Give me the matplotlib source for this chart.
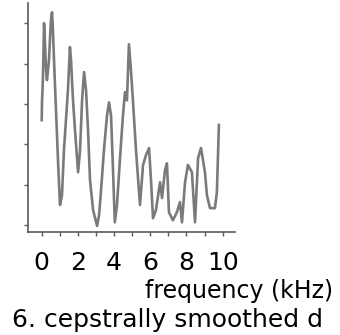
import matplotlib
matplotlib.use("Agg")
import matplotlib.pyplot as plt

# spectrum values (frequency in kHz, level in dB)
freq_khz = [0.0, 0.02, 0.07, 0.13, 0.18, 0.24, 0.29, 0.40, 0.51, 0.57,
            0.62, 0.68, 0.79, 0.90, 1.01, 1.12, 1.23, 1.34, 1.45, 1.56,
            1.62, 1.73, 1.84, 2.01, 2.12, 2.23, 2.34, 2.45, 2.56, 2.67,
            2.84, 3.06, 3.17, 3.28, 3.44, 3.61, 3.72, 3.83, 3.94, 4.04,
            4.16, 4.32, 4.49, 4.60, 4.71, 4.82, 4.93, 5.04, 5.21, 5.43,
            5.60, 5.76, 5.93, 6.04, 6.15, 6.31, 6.54, 6.65, 6.81, 6.92,
            7.03, 7.25, 7.47, 7.64, 7.75, 7.92, 8.08, 8.30, 8.47, 8.64,
            8.80, 9.02, 9.13, 9.30, 9.57, 9.68, 9.79]
level_db = [26.0, 30.9, 36.6, 50.0, 45.0, 38.4, 35.9, 40.8, 50.7, 52.7,
            48.3, 40.8, 28.5, 16.1, 5.0, 7.4, 18.6, 26.0, 33.4, 44.1,
            40.8, 30.9, 23.5, 13.1, 18.6, 30.9, 37.9, 33.4, 23.5, 11.1,
            3.7, -0.2, 2.5, 8.7, 18.6, 27.2, 30.4, 27.2, 13.6, 0.7,
            5.0, 16.1, 27.2, 32.9, 30.9, 44.8, 38.4, 30.9, 18.6, 5.0,
            14.9, 17.3, 19.1, 11.1, 1.7, 3.7, 10.6, 6.7, 13.6, 15.3,
            3.2, 1.2, 3.2, 5.7, 0.7, 10.6, 14.9, 13.1, 0.7, 16.6,
            19.1, 13.1, 7.4, 4.2, 4.2, 8.2, 24.8]

x_ticks = [0, 2, 4, 6, 8, 10]
x_minor = [1, 3, 5, 7, 9]
y_ticks = [0, 10, 20, 30, 40, 50]

plt.rcParams['font.family'] = ['DejaVu Sans']

fig = plt.figure(figsize=(3.4, 3.35), dpi=100)
ax = fig.add_axes([28 / 340, 1 - 232 / 335, 207 / 340, 229 / 335])

ax.plot(freq_khz, level_db, color='#7a7a7a', lw=1.9)

ax.set_xlim(-0.757, 10.68)
ax.set_ylim(-1.7, 55.0)

for side in ['top', 'right']:
    ax.spines[side].set_visible(False)
for side in ['left', 'bottom']:
    ax.spines[side].set_color('#5a5a5a')
    ax.spines[side].set_linewidth(1.2)

ax.set_xticks(x_ticks)
ax.set_xticklabels([str(t) for t in x_ticks])
ax.set_xticks(x_minor, minor=True)
ax.set_yticks(y_ticks)
ax.set_yticklabels([])
ax.tick_params(axis='x', which='both', length=3, width=1, color='#5a5a5a',
               labelsize=18, pad=11)
ax.tick_params(axis='y', length=3, width=1, color='#5a5a5a')

fig.text(333 / 340, 1 - 298 / 335, 'frequency (kHz)', ha='right', va='baseline',
         fontsize=17)
fig.text(12 / 340, 1 - 327 / 335, '6. cepstrally smoothed d', ha='left',
         va='baseline', fontsize=18)

fig.savefig('out.png', dpi=100)
